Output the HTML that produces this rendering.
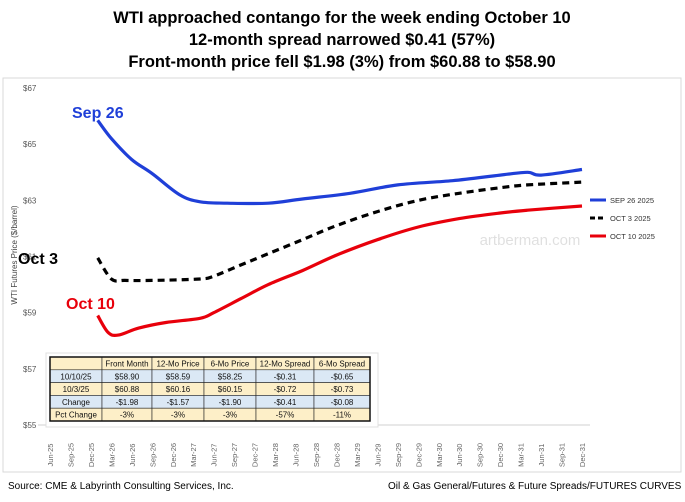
<!DOCTYPE html>
<html><head><meta charset="utf-8"><style>
body{margin:0;background:#fff;width:685px;height:497px;overflow:hidden;font-family:"Liberation Sans",sans-serif}
svg text{font-family:"Liberation Sans",sans-serif}
</style></head><body>
<svg id="c" width="685" height="497">
<rect x="0" y="0" width="685" height="497" fill="#fff"/>
<rect x="3" y="78" width="678" height="394" fill="none" stroke="#d9d9d9"/>
<text x="342" y="23" text-anchor="middle" font-size="16.5" font-weight="bold">WTI approached contango for the week ending October 10</text>
<text x="342" y="45" text-anchor="middle" font-size="16.5" font-weight="bold">12-month spread narrowed $0.41 (57%)</text>
<text x="342" y="67" text-anchor="middle" font-size="16.5" font-weight="bold">Front-month price fell $1.98 (3%) from $60.88 to $58.90</text>
<text transform="translate(17,255) rotate(-90)" text-anchor="middle" font-size="8" fill="#444">WTI Futures  Price ($/barrel)</text>
<text x="530" y="245" text-anchor="middle" font-size="15" fill="#000" opacity="0.12">artberman.com</text>
<g id="grid"></g><g id="series"></g>
<text x="72" y="118" font-size="16" font-weight="bold" fill="#1f3fd8">Sep 26</text>
<text x="18" y="264" font-size="16" font-weight="bold" fill="#000">Oct 3</text>
<text x="66" y="309" font-size="16" font-weight="bold" fill="#e8000b">Oct 10</text>
<g>
<line x1="590" y1="200" x2="606" y2="200" stroke="#1f3fd8" stroke-width="3"/>
<text x="610" y="203" font-size="7.5" fill="#333">SEP 26 2025</text>
<line x1="590" y1="218" x2="606" y2="218" stroke="#000" stroke-width="3" stroke-dasharray="5,3"/>
<text x="610" y="221" font-size="7.5" fill="#333">OCT 3 2025</text>
<line x1="590" y1="236" x2="606" y2="236" stroke="#e8000b" stroke-width="3"/>
<text x="610" y="239" font-size="7.5" fill="#333">OCT 10 2025</text>
</g>
<g id="table"></g>
<text x="8" y="489" font-size="10">Source: CME &amp; Labyrinth Consulting Services, Inc.</text>
<text x="388" y="489" font-size="10">Oil &amp; Gas General/Futures &amp; Future Spreads/FUTURES CURVES</text>
</svg>
<script>
const tickLabels=["Jun-25","Sep-25","Dec-25","Mar-26","Jun-26","Sep-26","Dec-26","Mar-27","Jun-27","Sep-27","Dec-27","Mar-28","Jun-28","Sep-28","Dec-28","Mar-29","Jun-29","Sep-29","Dec-29","Mar-30","Jun-30","Sep-30","Dec-30","Mar-31","Jun-31","Sep-31","Dec-31"];
const yTicks=[55,57,59,61,63,65,67];
const sepMonths=[7,9,12,15,19,22,26,32,37,44,51,59,66,70,72,78];
const sepVals=[65.85,65.2,64.45,63.95,63.2,62.95,62.9,62.9,63.05,63.25,63.55,63.7,63.9,64.0,63.9,64.1];
const oct3Months=[7,9,11,15,22,24,28,32,37,42,48,54,60,66,70,78];
const oct3Vals=[60.95,60.2,60.15,60.15,60.2,60.3,60.7,61.1,61.6,62.1,62.6,63.0,63.25,63.45,63.55,63.65];
const oct10Months=[7,8.5,10,13,17,22,24,28,32,37,42,48,54,60,66,70,78];
const oct10Vals=[58.9,58.3,58.2,58.45,58.65,58.8,59.0,59.5,60.0,60.5,61.05,61.6,62.05,62.35,62.55,62.65,62.8];
const tableHead=["","Front Month","12-Mo Price","6-Mo Price","12-Mo Spread","6-Mo Spread"];
const tableRows=[["10/10/25","$58.90","$58.59","$58.25","-$0.31","-$0.65"],["10/3/25","$60.88","$60.16","$60.15","-$0.72","-$0.73"],["Change","-$1.98","-$1.57","-$1.90","-$0.41","-$0.08"],["Pct Change","-3%","-3%","-3%","-57%","-11%"]];
const NS="http://www.w3.org/2000/svg";
const x=m=>50+m*(532/78);
const y=v=>425-(v-55)*28.08;
function mk(t,a,p){const e=document.createElementNS(NS,t);for(const k in a)e.setAttribute(k,a[k]);p.appendChild(e);return e;}
const g=document.getElementById('grid');
const ax=mk('line',{x1:38,x2:590,y1:y(55),y2:y(55),stroke:'#d0d0d0'},g);


yTicks.forEach(v=>{const t=mk('text',{x:23,y:y(v)+3,'font-size':8,fill:'#555'},g);t.textContent='$'+v;

});
tickLabels.forEach((l,i)=>{const px=x(i*3);const t=mk('text',{transform:`translate(${px+3},${y(55)+30}) rotate(-90)`,'font-size':7.5,fill:'#666','text-anchor':'middle'},g);t.textContent=l;

});
const s=document.getElementById('series');
function line(ms,vs,col,dash,name){
const P=ms.map((m,i)=>[x(m),y(vs[i])]);
let d='M'+P[0][0].toFixed(1)+','+P[0][1].toFixed(1);
for(let i=0;i<P.length-1;i++){const p0=P[Math.max(0,i-1)],p1=P[i],p2=P[i+1],p3=P[Math.min(P.length-1,i+2)];
const c1=[p1[0]+(p2[0]-p0[0])/6,p1[1]+(p2[1]-p0[1])/6],c2=[p2[0]-(p3[0]-p1[0])/6,p2[1]-(p3[1]-p1[1])/6];
d+=` C${c1[0].toFixed(1)},${c1[1].toFixed(1)} ${c2[0].toFixed(1)},${c2[1].toFixed(1)} ${p2[0].toFixed(1)},${p2[1].toFixed(1)}`;}
const p=mk('path',{d:d,fill:'none',stroke:col,'stroke-width':3.2,'stroke-linejoin':'round','stroke-dasharray':dash},s);

}
line(sepMonths,sepVals,'#1f3fd8','none','series-sep26');
line(oct3Months,oct3Vals,'#000','7,5','series-oct3');
line(oct10Months,oct10Vals,'#e8000b','none','series-oct10');
const tb=document.getElementById('table');
const cw=[52,50,52,52,58,56];const x0=50,y0=357,rh=12.8;
const rowFill=['#fdefc8','#dbe8f5','#fdefc8','#dbe8f5','#fdefc8'];
mk('rect',{x:x0-4,y:y0-4,width:332,height:74,fill:'#fff',stroke:'#e0e0e0'},tb);
[tableHead].concat(tableRows).forEach((r,ri)=>{let cx=x0;r.forEach((c,ci)=>{mk('rect',{x:cx,y:y0+ri*rh,width:cw[ci],height:rh,fill:rowFill[ri],stroke:'#222','stroke-width':0.6},tb);
const t=mk('text',{x:cx+cw[ci]/2,y:y0+ri*rh+9.5,'font-size':8,'text-anchor':'middle',fill:'#111'},tb);t.textContent=c;cx+=cw[ci];});});
mk('rect',{x:x0,y:y0,width:320,height:rh*5,fill:'none',stroke:'#111','stroke-width':1.5},tb);
</script>
</body></html>
